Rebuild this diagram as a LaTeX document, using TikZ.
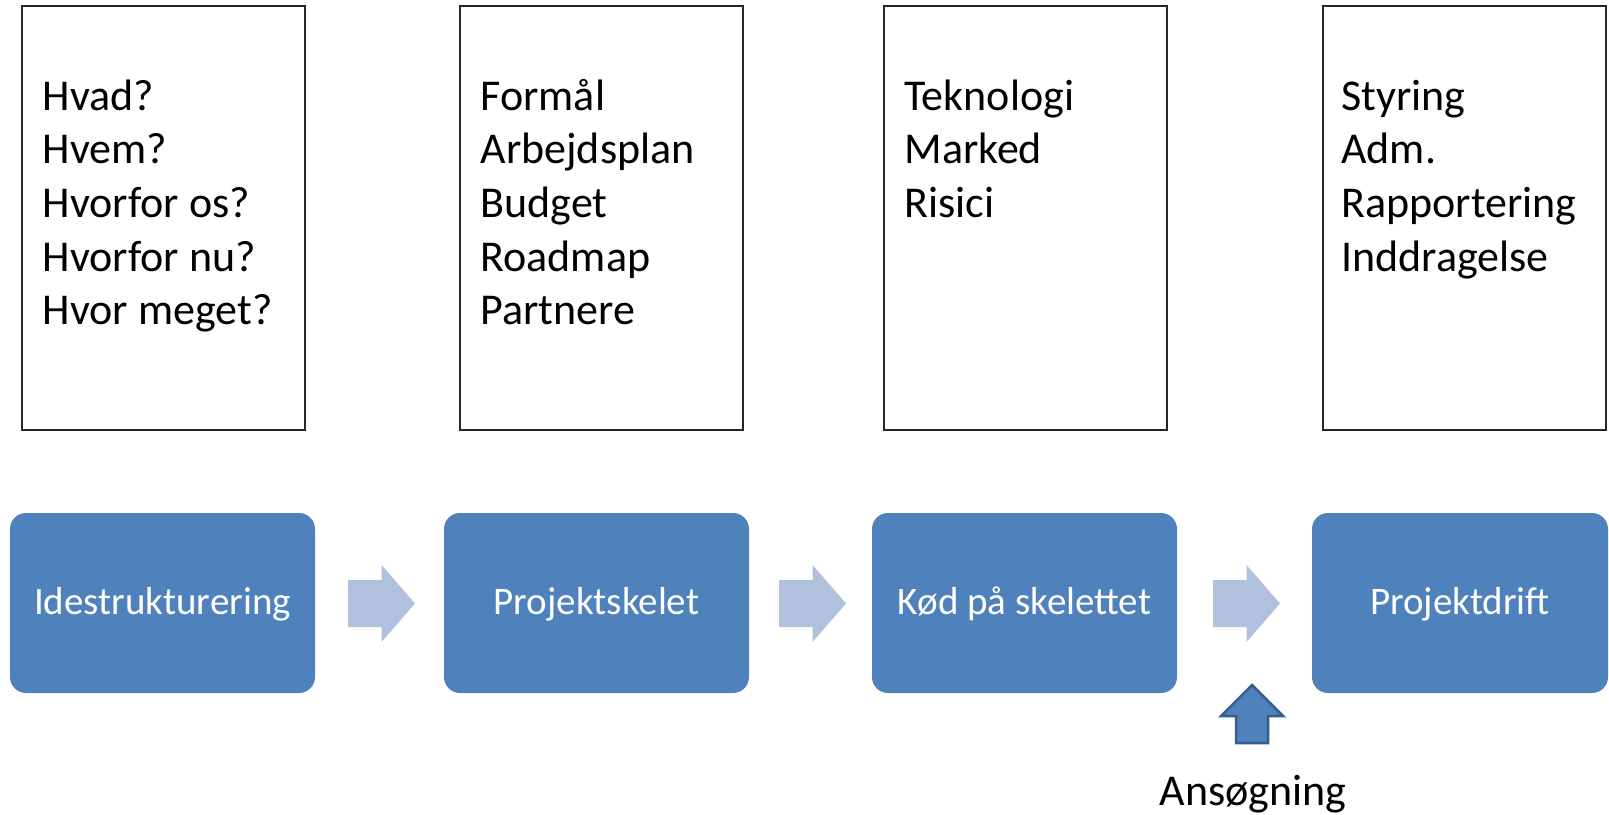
\documentclass[tikz,border=0pt]{standalone}
\usepackage{fontspec}
\setmainfont{Carlito}
\usetikzlibrary{calc}
\definecolor{boxblue}{RGB}{79,129,189}
\definecolor{lightarrow}{RGB}{176,193,221}
\definecolor{darkblue}{RGB}{56,93,138}
\tikzset{
  topbox/.style={draw=black!85, line width=1.6pt, minimum width=283pt, minimum height=424pt, inner sep=0pt},
  toptext/.style={anchor=north west, inner sep=0pt, align=left, font=\fontsize{44}{53.7}\selectfont},
  stepbox/.style={fill=boxblue, rounded corners=16pt, minimum width=305pt, minimum height=180pt, inner sep=0pt,
    text=white, font=\fontsize{39}{47}\selectfont, text height=30pt, text depth=8pt},
  flowarrow/.pic={\fill[lightarrow] (-33.5,-23.5) -- (0,-23.5) -- (0,-38.5) -- (33.5,0) -- (0,38.5) -- (0,23.5) -- (-33.5,23.5) -- cycle;}
}
\begin{document}
\begin{tikzpicture}[x=1pt,y=-1pt]
\useasboundingbox (0,0) rectangle (1609,814);
% top boxes
\node[topbox] (t1) at (163.3,218) {};
\node[topbox] (t2) at (601.2,218) {};
\node[topbox] (t3) at (1025.5,218) {};
\node[topbox] (t4) at (1464.5,218) {};
\node[toptext] (l1) at ($(t1.north west)+(21.6,67.1)$) {\strut Hvad?\\Hvem?\\Hvorfor os?\\Hvorfor nu?\\Hvor meget?};
\node[toptext] (l2) at ($(t2.north west)+(21.5,67.1)$) {\strut Formål\\Arbejdsplan\\Budget\\Roadmap\\Partnere};
\node[toptext] (l3) at ($(t3.north west)+(21,67.1)$) {\strut Teknologi\\Marked\\Risici};
\node[toptext] (l4) at ($(t4.north west)+(19,67.1)$) {\strut Styring\\Adm.\\Rapportering\\Inddragelse};
% process boxes
\node[stepbox] (b1) at (162.5,603) {Idestrukturering};
\node[stepbox] (b2) at (596.5,603) {Projektskelet};
\node[stepbox] (b3) at (1024.5,603) {Kød på skelettet};
\node[stepbox, minimum width=296pt] (b4) at (1460,603) {Projektdrift};
% arrows between boxes
\coordinate (m1) at ($(b1.east)!.5!(b2.west)+(2,0.5)$);
\coordinate (m2) at ($(b2.east)!.5!(b3.west)+(2,0.5)$);
\coordinate (m3) at ($(b3.east)!.5!(b4.west)+(2,0.5)$);
\pic at (m1) {flowarrow};
\pic at (m2) {flowarrow};
\pic at (m3) {flowarrow};
% Ansøgning
\node[anchor=base, inner sep=0pt, font=\fontsize{44}{53.7}\selectfont] (ans) at (1253,805) {Ansøgning};
\coordinate (up) at (1252,685);
\draw[darkblue, fill=boxblue, line width=2.5pt, line join=miter]
  (up) -- ++(31,31) -- ++(-15,0) -- ++(0,27) -- ++(-32,0) -- ++(0,-27) -- ++(-15,0) -- cycle;
\end{tikzpicture}
\end{document}
